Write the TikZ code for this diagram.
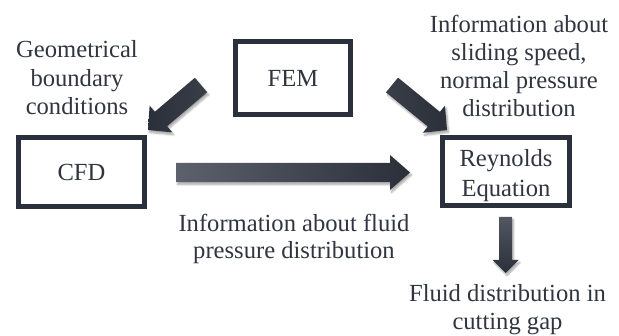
\documentclass[tikz,border=0pt]{standalone}
\usepackage{fontspec}
\setmainfont{Liberation Serif}
\usetikzlibrary{calc,shadows.blur}
\definecolor{ink}{HTML}{30353F}
\definecolor{boxline}{HTML}{2B313C}
\definecolor{arrdark}{HTML}{2A2F3A}
\definecolor{arrlight}{HTML}{5C616B}
\newcommand{\myblockarrow}[6]{%
  \coordinate (hb) at ($(#2)!#5!(#1)$);
  \path[arrowbody,#6] ($(#1)!#3!90:(#2)$) -- ($(hb)!#3!90:(#2)$) -- ($(hb)!#4!90:(#2)$) -- (#2)
    -- ($(hb)!#4!-90:(#2)$) -- ($(hb)!#3!-90:(#2)$) -- ($(#1)!#3!-90:(#2)$) -- cycle;
}
\begin{document}
\begin{tikzpicture}[x=1pt,y=-1pt,
  box/.style={draw=boxline, line width=5pt, fill=white, inner sep=0pt, text=ink,
    font=\fontsize{24.6}{28}\selectfont},
  txt/.style={text=ink, inner sep=0pt, align=center, anchor=base,
    font=\fontsize{24.6}{28}\selectfont},
  arrowbody/.style={blur shadow={shadow xshift=1.5pt, shadow yshift=-2.5pt,
    shadow blur steps=8, shadow opacity=35}}]
\useasboundingbox (0,0) rectangle (619,336);

% boxes
\node[box, minimum width=115pt, minimum height=73pt] (fem) at (293,78) {FEM};
\node[box, minimum width=126pt, minimum height=69pt] (cfd) at (81.5,172.5) {CFD};
\node[box, minimum width=127pt, minimum height=68pt] (reyn) at (506,171.5) {};
\node[txt, font=\fontsize{24.6}{30}\selectfont] (reyntext) at (506,197) {Reynolds\\Equation};

% labels (anchor = baseline of last line)
\node[txt, font=\fontsize{24.6}{28.5}\selectfont] (geo) at (77,115) {Geometrical\\boundary\\conditions};
\node[txt, font=\fontsize{24.6}{28}\selectfont] (info) at (519,117) {Information about\\sliding speed,\\normal pressure\\distribution};
\node[txt, font=\fontsize{24.6}{26.5}\selectfont] (fluidp) at (294,258.5) {Information about fluid\\pressure distribution};
\node[txt, font=\fontsize{24.6}{28}\selectfont] (fluidd) at (507.5,330) {Fluid distribution in\\cutting gap};

% arrow end points
\coordinate (a1s) at (201,85);
\coordinate (a1e) at (148,130);
\coordinate (a2s) at (392,85);
\coordinate (a2e) at (447,130);
\coordinate (a3s) at (176,172.5);
\coordinate (a3e) at (410,172.5);
\coordinate (a4s) at (505.5,217);
\coordinate (a4e) at (505.5,273);

% arrows
\myblockarrow{a1s}{a1e}{9.5pt}{17.5pt}{17pt}{left color=arrdark, right color=arrdark!70!arrlight}
\myblockarrow{a2s}{a2e}{9.5pt}{17.5pt}{17pt}{left color=arrdark!70!arrlight, right color=arrdark}
\myblockarrow{a3s}{a3e}{9.5pt}{17.5pt}{20pt}{left color=arrlight, middle color=arrdark, right color=arrdark}
\myblockarrow{a4s}{a4e}{6.5pt}{13pt}{13pt}{top color=arrlight!80!arrdark, bottom color=arrdark}
\end{tikzpicture}
\end{document}
